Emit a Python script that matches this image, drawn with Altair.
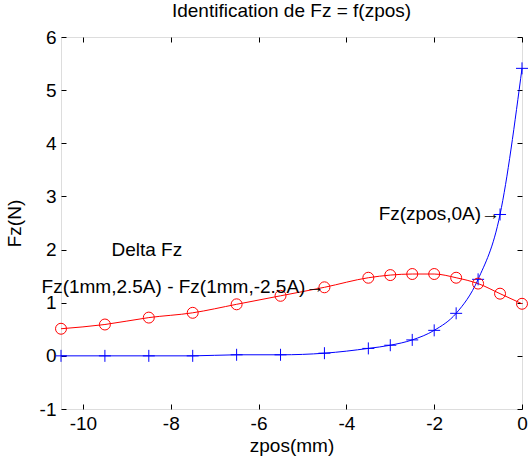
import altair as alt
import pandas as pd

# Axial force versus z position
zpos = [-10.5, -9.5, -8.5, -7.5, -6.5, -5.5, -4.5, -3.5, -3.0, -2.5, -2.0, -1.5, -1.0, -0.5, 0.0]
fz_0a = [0.0, 0.0, 0.0, 0.0, 0.02, 0.02, 0.05, 0.14, 0.20, 0.30, 0.48, 0.80, 1.44, 2.66, 5.41]
delta_fz = [0.51, 0.59, 0.72, 0.81, 0.97, 1.13, 1.29, 1.47, 1.52, 1.54, 1.54, 1.47, 1.36, 1.17, 0.98]

# Annotations (text ends with an arrow pointing at the curve)
note_text = ["Delta Fz", "Fz(1mm,2.5A) - Fz(1mm,-2.5A)\u2192", "Fz(zpos,0A)\u2192"]
note_x = [-9.35, -4.5, -0.5]
note_y = [2.0, 1.29, 2.66]
note_align = ["left", "right", "right"]

x_ticks = [-10, -8, -6, -4, -2, 0]
y_ticks = [-1, 0, 1, 2, 3, 4, 5, 6]

FONT = "Liberation Sans"
FS = 19

df = pd.DataFrame({"zpos": zpos, "fz_0a": fz_0a, "delta_fz": delta_fz})
notes = pd.DataFrame({"x": note_x, "y": note_y, "text": note_text, "align": note_align})

xs = alt.Scale(domain=[-10.5, 0], nice=False, zero=False)
ys = alt.Scale(domain=[-1, 6], nice=False, zero=False)

common = dict(grid=False, domain=False, tickColor="black", tickWidth=1,
              tickSize=5, offset=-5, labelFlush=False, labelOverlap=False)

x_bottom = alt.Axis(orient="bottom", values=x_ticks, labelExpr="'' + datum.value",
                    labelFont=FONT, labelFontSize=FS, labelColor="black", labelPadding=5,
                    title="zpos(mm)", titleFont=FONT, titleFontSize=FS,
                    titleFontWeight="normal", titleColor="black", titlePadding=3, **common)
y_left = alt.Axis(orient="left", values=y_ticks, labelExpr="'' + datum.value",
                  labelFont=FONT, labelFontSize=FS, labelColor="black", labelPadding=5,
                  title="Fz(N)", titleFont=FONT, titleFontSize=FS,
                  titleFontWeight="normal", titleColor="black", titlePadding=15, **common)
x_top = alt.Axis(orient="top", values=x_ticks, labels=False, title=None, **common)
y_right = alt.Axis(orient="right", values=y_ticks, labels=False, title=None, **common)

blue_line = alt.Chart(df).mark_line(color="#0000ff", strokeWidth=1, interpolate="monotone").encode(
    x=alt.X("zpos:Q", scale=xs, axis=x_bottom),
    y=alt.Y("fz_0a:Q", scale=ys, axis=y_left),
)
red_line = alt.Chart(df).mark_line(color="#ff0000", strokeWidth=1, interpolate="monotone").encode(
    x=alt.X("zpos:Q", scale=xs, axis=x_top),
    y=alt.Y("delta_fz:Q", scale=ys, axis=y_right),
)
blue_pts = alt.Chart(df).mark_point(
    shape="M -1 0 L 1 0 M 0 -1 L 0 1", size=144, color="#0000ff",
    strokeWidth=1, filled=False, opacity=1,
).encode(
    x=alt.X("zpos:Q", scale=xs, axis=None),
    y=alt.Y("fz_0a:Q", scale=ys, axis=None),
)
red_pts = alt.Chart(df).mark_point(
    shape="circle", size=120, color="#ff0000", strokeWidth=1, filled=False, opacity=1,
).encode(
    x=alt.X("zpos:Q", scale=xs, axis=None),
    y=alt.Y("delta_fz:Q", scale=ys, axis=None),
)

text_left = alt.Chart(notes).transform_filter("datum.align == 'left'").mark_text(
    align="left", baseline="middle", font=FONT, fontSize=FS, color="black"
).encode(
    x=alt.X("x:Q", scale=xs, axis=None),
    y=alt.Y("y:Q", scale=ys, axis=None),
    text="text:N",
)
text_right = alt.Chart(notes).transform_filter("datum.align == 'right'").mark_text(
    align="right", baseline="middle", font=FONT, fontSize=FS, color="black"
).encode(
    x=alt.X("x:Q", scale=xs, axis=None),
    y=alt.Y("y:Q", scale=ys, axis=None),
    text="text:N",
)

chart = alt.layer(
    blue_line, red_line, blue_pts, red_pts, text_left, text_right
).resolve_axis(
    x="independent", y="independent"
).properties(
    width=461,
    height=372,
    autosize="none",
    padding={"left": 61, "top": 37, "right": 6, "bottom": 54},
    title=alt.Title("Identification de Fz = f(zpos)", font=FONT, fontSize=FS,
                    fontWeight="normal", color="black", anchor="middle",
                    frame="group", baseline="bottom", offset=-12),
).configure_view(
    stroke="black", strokeWidth=1
).configure(background="white")

chart.save("out.html", embed_options={"renderer": "svg", "actions": False})
